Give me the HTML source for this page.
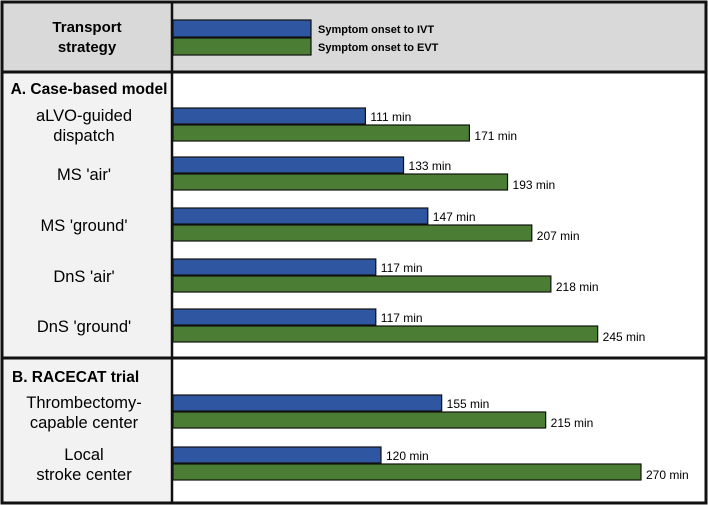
<!DOCTYPE html>
<html><head><meta charset="utf-8"><style>
html,body{margin:0;padding:0;background:#fff;}
svg{display:block;font-family:"Liberation Sans",Arial,sans-serif;}
</style></head><body>
<svg id="chart" width="708" height="505">
  <rect x="0" y="0" width="708" height="505" fill="#fff"/>
  <rect x="2" y="2" width="704" height="70" fill="#d9d9d9"/>
  <rect x="2" y="72" width="170" height="430" fill="#f2f2f2"/>
  <g id="bars"></g>
  <line x1="2" y1="72" x2="706" y2="72" stroke="#111" stroke-width="3"/>
  <line x1="2" y1="358" x2="706" y2="358" stroke="#111" stroke-width="3"/>
  <line x1="172" y1="2" x2="172" y2="503" stroke="#111" stroke-width="2.5"/>
  <rect x="2" y="2" width="704" height="501" fill="none" stroke="#111" stroke-width="3"/>
  <text x="87" y="32" text-anchor="middle" font-size="15" font-weight="bold">Transport</text>
  <text x="87" y="52" text-anchor="middle" font-size="15" font-weight="bold">strategy</text>
  <rect x="173" y="20" width="138" height="17" fill="#2f56a1" stroke="#111" stroke-width="1.2"/>
  <rect x="173" y="38" width="138" height="17" fill="#4b7d34" stroke="#111" stroke-width="1.2"/>
  <text x="318" y="33" font-size="11" font-weight="bold">Symptom onset to IVT</text>
  <text x="318" y="51" font-size="11" font-weight="bold">Symptom onset to EVT</text>
  <text x="89" y="94" text-anchor="middle" font-size="15.5" font-weight="bold">A. Case-based model</text>
  <text x="12" y="382" font-size="15.5" font-weight="bold">B. RACECAT trial</text>
  <g id="labels"></g>
</svg>
<script>
const categories = [["aLVO-guided","dispatch"],["MS 'air'"],["MS 'ground'"],["DnS 'air'"],["DnS 'ground'"],["Thrombectomy-","capable center"],["Local","stroke center"]];
const ivtValues = [111,133,147,117,117,155,120];
const evtValues = [171,193,207,218,245,215,270];
const groupTops = [108,157,208,259,309,395,447];
const x0 = 173, scale = (641-173)/270;
const xs = v => x0 + v*scale;
const NS = "http://www.w3.org/2000/svg";
const bars = document.getElementById('bars'), labels = document.getElementById('labels');
function mk(tag, attrs, parent){const e=document.createElementNS(NS,tag);for(const k in attrs)e.setAttribute(k,attrs[k]);parent.appendChild(e);return e;}
categories.forEach((c,i)=>{
  const y = groupTops[i];
  [[ivtValues[i],'#2f56a1',0,'ivt'],[evtValues[i],'#4b7d34',17,'evt']].forEach(([v,col,off,nm])=>{
    const r = mk('rect',{x:x0,y:y+off,width:xs(v)-x0,height:16,fill:col,stroke:'#111','stroke-width':1.2},bars);
    
    
    const t = mk('text',{x:xs(v)+5,y:y+off+(off?15:13),'font-size':12},bars);
    t.textContent = v+' min';
    
    
  });
  const cy = y+17;
  c.forEach((line,j)=>{
    const t = mk('text',{x:84,y:cy+6+(c.length===2?(j===0?-10:10):0),'text-anchor':'middle','font-size':16.5},labels);
    t.textContent = line;
    
    
  });
});
</script>
</body></html>
